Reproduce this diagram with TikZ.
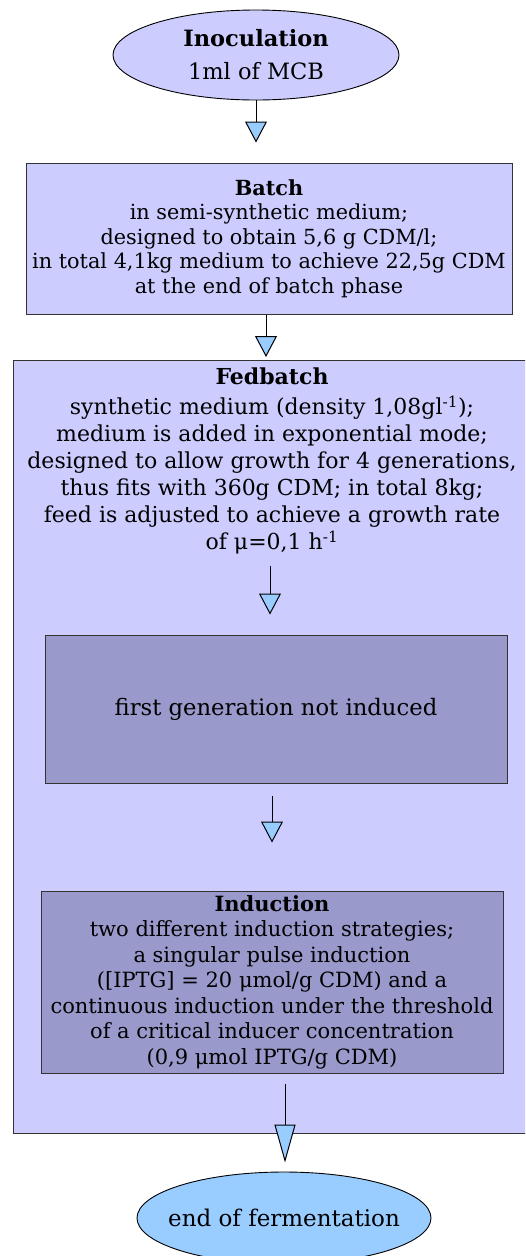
\documentclass[tikz,border=0pt]{standalone}
\usepackage{fontspec}
\setmainfont{DejaVu Serif}
\usetikzlibrary{arrows.meta,shapes.geometric}
\definecolor{lav}{HTML}{CCCCFF}
\definecolor{lavdark}{HTML}{9999CC}
\definecolor{tipblue}{HTML}{99CCFF}
\definecolor{edge}{HTML}{333333}
\begin{document}
\begin{tikzpicture}[x=1pt,y=-1pt,
  boxstyle/.style={draw=edge,line width=1pt,rectangle,inner sep=0pt,align=center,
    font=\fontsize{20.8}{24.5}\selectfont},
  ellstyle/.style={draw=black,line width=0.9pt,ellipse,inner sep=0pt,align=center,
    font=\fontsize{22.5}{26}\selectfont},
  flow/.style={draw=black,line width=1pt,
    -{Triangle[length=21pt,width=22pt,fill=tipblue]}},
  longflow/.style={draw=black,line width=1pt,
    -{Triangle[length=38pt,width=21pt,fill=tipblue]}},
]
\useasboundingbox (0,0) rectangle (525,1256);
\clip (0,0) rectangle (525,1256);

% Inoculation
\node[ellstyle,fill=lav,minimum width=286pt,minimum height=90pt] (inoc) at (256,55)
  {\textbf{Inoculation}\\[7pt]1ml of MCB};

% Batch
\node[boxstyle,fill=lav,minimum width=486pt,minimum height=151pt] (batch) at (269,238.5)
  {\textbf{Batch}\\in semi-synthetic medium;\\designed to obtain 5,6 g CDM/l;\\in total 4,1kg medium to achieve 22,5g CDM\\at the end of batch phase};

% Fedbatch container
\node[boxstyle,fill=lav,anchor=north west,minimum width=530pt,minimum height=773pt] (fed) at (13,360) {};
\node[inner sep=0pt,align=center,font=\fontsize{22}{27}\selectfont] (fedtext) at (272,461)
  {\textbf{Fedbatch}\\[3pt]synthetic medium (density 1,08gl\textsuperscript{-1});\\medium is added in exponential mode;\\designed to allow growth for 4 generations,\\thus fits with 360g CDM; in total 8kg;\\feed is adjusted to achieve a growth rate\\of μ=0,1 h\textsuperscript{-1}};

% First generation
\node[boxstyle,fill=lavdark,minimum width=462pt,minimum height=148pt,
  font=\fontsize{22.7}{27}\selectfont] (gen1) at (276,709)
  {first generation not induced};

% Induction
\node[boxstyle,fill=lavdark,minimum width=462pt,minimum height=182pt,
  font=\fontsize{21}{25.5}\selectfont] (induct) at (272,982)
  {\textbf{Induction}\\two different induction strategies;\\a singular pulse induction\\([IPTG] = 20 μmol/g CDM) and a\\continuous induction under the threshold\\of a critical inducer concentration\\(0,9 μmol IPTG/g CDM)};

% End
\node[ellstyle,fill=tipblue,minimum width=294pt,minimum height=92pt,
  font=\fontsize{23}{27}\selectfont] (endf) at (284,1218)
  {\makebox[0pt]{end of fermentation}};

% Connectors
\draw[flow,shorten >=20pt] (inoc.south) -- (inoc.south |- batch.north);
\draw[flow,shorten >=3pt] ([xshift=-3pt]batch.south) -- ([xshift=-3pt]batch.south |- fed.north);
\draw[flow,shorten <=12pt,shorten >=20pt] ([xshift=-2pt]fedtext.south) -- ([xshift=-2pt]fedtext.south |- gen1.north);
\draw[flow,shorten <=12pt,shorten >=48pt] ([xshift=-4pt]gen1.south) -- ([xshift=-4pt]gen1.south |- induct.north);
\draw[longflow,shorten <=10pt,shorten >=9pt] ([xshift=13pt]induct.south) -- ([xshift=13pt]induct.south |- endf.north);
\end{tikzpicture}
\end{document}
